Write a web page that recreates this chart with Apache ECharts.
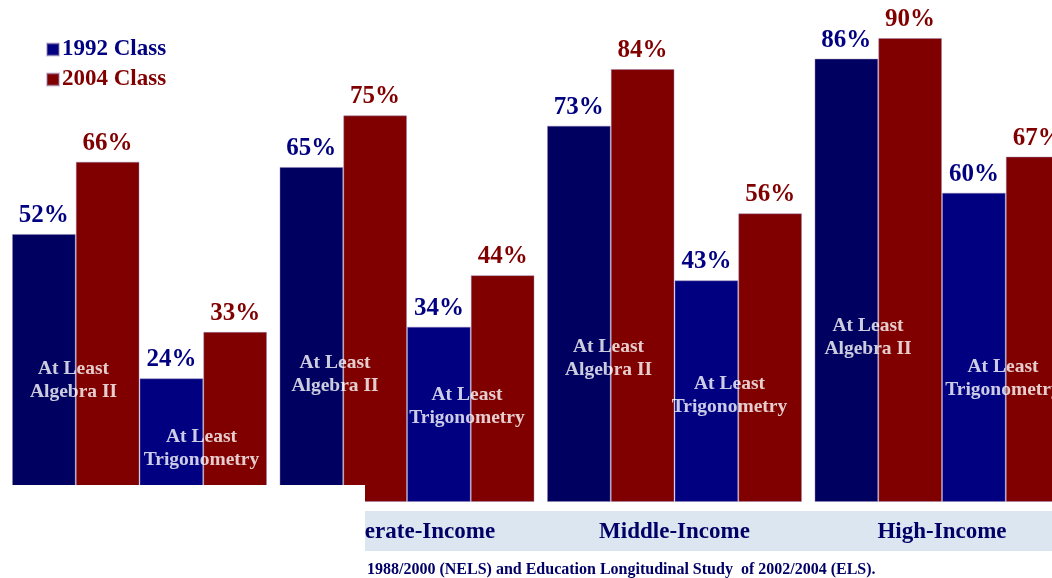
<!DOCTYPE html>
<html>
<head>
<meta charset="utf-8">
<script src="https://cdn.jsdelivr.net/npm/echarts@6/dist/echarts.min.js"></script>
<style>html,body{margin:0;padding:0;background:#fff;}#c{width:1052px;height:578px;}</style>
</head>
<body>
<div id="c"></div>
<script>
var categories = ['Low-Income', 'Moderate-Income', 'Middle-Income', 'High-Income'];
var algebra1992 = [52, 65, 73, 86];
var algebra2004 = [66, 75, 84, 90];
var trig1992 = [24, 34, 43, 60];
var trig2004 = [33, 44, 56, 67];
var algebraNoteY = [23.5, 24.8, 27.9, 32];
var trigNoteY = [10.3, 18.6, 20.6, 23.9];
var legendNames = ['1992 Class', '2004 Class'];
var footnote = '1988/2000 (NELS) and Education Longitudinal Study  of 2002/2004 (ELS).';

var SERIF = '"Liberation Serif", "Times New Roman", serif';
var NAVY_DARK = '#000060';
var NAVY = '#000080';
var RED = '#800000';
var algebraNoteDx = [-66, -72, -66, -74];
var trigNoteDx = [62, 60, 55, 61];

function barSeries(name, data, color, labelColor) {
  return {
    type: 'bar', name: name, data: data, barGap: 0, barCategoryGap: '4.67%',
    itemStyle: { color: color, borderColor: 'rgba(150,130,180,0.45)', borderWidth: 1 },
    label: { show: true, position: 'top', distance: 6, formatter: '{c}%',
      fontFamily: SERIF, fontWeight: 'bold', fontSize: 25, color: labelColor },
    z: 2
  };
}
function noteSeries(ys, text, dxs) {
  return {
    type: 'scatter', symbolSize: 0, silent: true, z: 5,
    data: ys.map(function (y, i) { return { value: [i, y], label: { offset: [dxs[i], 0] } }; }),
    label: { show: true, position: 'inside', formatter: text,
      fontFamily: SERIF, fontWeight: 'bold', fontSize: 19.5, lineHeight: 23,
      color: '#ffffff', align: 'center', verticalAlign: 'middle' }
  };
}

var chart = echarts.init(document.getElementById('c'));
chart.setOption({
  animation: false,
  backgroundColor: '#ffffff',
  grid: { left: 5.75, width: 1070, top: 38, bottom: 76, containLabel: false, outerBoundsMode: 'none' },
  legend: {
    left: 41, top: 33, orient: 'vertical', itemGap: 7, itemWidth: 12, itemHeight: 12,
    icon: 'rect',
    data: [
      { name: legendNames[0], itemStyle: { color: NAVY }, textStyle: { color: NAVY } },
      { name: legendNames[1], itemStyle: { color: RED }, textStyle: { color: RED } }
    ],
    textStyle: { fontFamily: SERIF, fontWeight: 'bold', fontSize: 23, padding: [0, 0, 0, -2] }
  },
  xAxis: {
    type: 'category', data: categories,
    axisLine: { show: false }, axisTick: { show: false },
    axisLabel: { margin: 19, fontFamily: SERIF, fontWeight: 'bold', fontSize: 23, color: '#000066' }
  },
  yAxis: { type: 'value', min: 0, max: 90, show: false, splitLine: { show: false } },
  series: [
    barSeries(legendNames[0], algebra1992, NAVY_DARK, NAVY),
    barSeries(legendNames[1], algebra2004, RED, RED),
    barSeries(legendNames[0], trig1992, NAVY, NAVY),
    barSeries(legendNames[1], trig2004, RED, RED),
    noteSeries(algebraNoteY, 'At Least\nAlgebra II', algebraNoteDx),
    noteSeries(trigNoteY, 'At Least\nTrigonometry', trigNoteDx)
  ],
  graphic: [
    { type: 'rect', z: -10, shape: { x: 364, y: 511, width: 700, height: 40 },
      style: { fill: '#dce6f1' } },
    { type: 'rect', z: 100, shape: { x: 0, y: 485, width: 365, height: 93 },
      style: { fill: '#ffffff' } },
    { type: 'text', z: 101, left: 367, top: 562,
      style: { text: footnote, fontFamily: SERIF, fontWeight: 'bold', fontSize: 16, fill: '#000066' } }
  ]
});
</script>
</body>
</html>
